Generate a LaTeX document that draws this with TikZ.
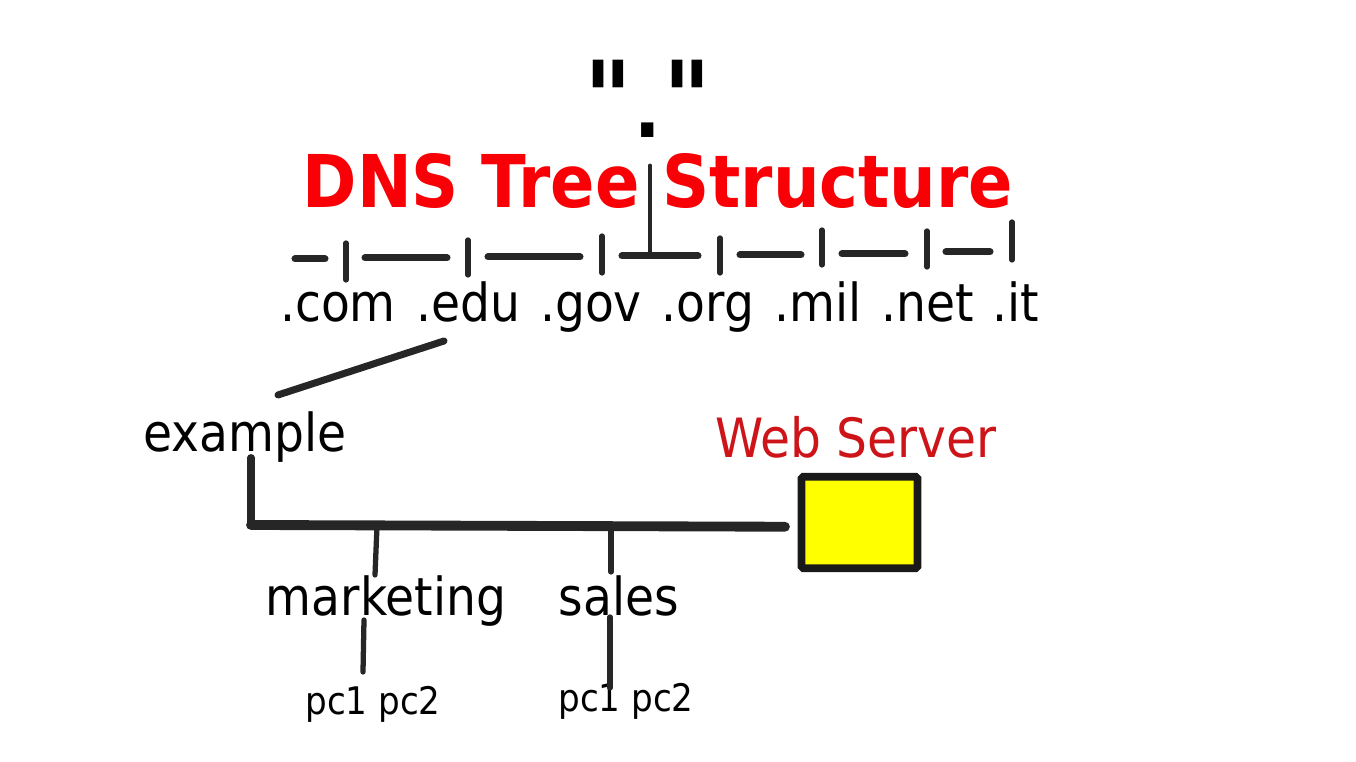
\documentclass[tikz,border=0pt]{standalone}
\usepackage{fontspec}
\setmainfont{DejaVu Sans Condensed}
\newfontfamily\rootfont{DejaVu Sans Condensed}
\definecolor{titlered}{RGB}{248,0,5}
\definecolor{serverred}{RGB}{205,20,25}
\definecolor{boxyellow}{RGB}{255,255,0}
\tikzset{
  plain/.style={inner sep=0pt,outer sep=0pt,text=black,anchor=base},
  zone/.style={plain,font=\fontsize{14.9pt}{0}\selectfont},
  host/.style={plain,font=\fontsize{10.8pt}{0}\selectfont},
  wire/.style={line width=2pt,black!85,line cap=round},
  tickmark/.style={line width=1.5pt,black!85,line cap=round},
  bus/.style={line width=2.8pt,black!85,line cap=round}
}
\begin{document}
\begin{tikzpicture}[x=0.01cm,y=-0.01cm]
  \useasboundingbox (0,0) rectangle (1356,762);
  % root and title
  \node[plain,font=\rootfont\fontsize{29pt}{0}\selectfont\bfseries] (rootname) at (648,135) {"\hspace{9pt}"};
  \node[plain,font=\fontsize{22pt}{0}\bfseries] (rootdot) at (648,138) {.};
  \node[plain,text=titlered,font=\fontsize{20.7pt}{0}\bfseries] (title) at (658,208) {DNS Tree Structure};
  % top level zones
  \node[zone] (com) at (338,322) {.com};
  \node[zone] (edu) at (468,322) {.edu};
  \node[zone] (gov) at (591,322) {.gov};
  \node[zone] (org) at (708,322) {.org};
  \node[zone] (mil) at (818,322) {.mil};
  \node[zone] (net) at (928,322) {.net};
  \node[zone] (it)  at (1016,322) {.it};
  % lower levels
  \node[zone] (example) at (245,452) {example};
  \node[zone] (marketing) at (386,616) {marketing};
  \node[zone] (sales) at (619,616) {sales};
  \node[host] (pcA) at (373,715) {pc1 pc2};
  \node[host] (pcB) at (626,712) {pc1 pc2};
  \node[plain,text=serverred,font=\fontsize{15.4pt}{0}\selectfont] (servername) at (856,458) {Web Server};
  \node[draw=black!90,fill=boxyellow,line width=2.2pt,rounded corners=0.5pt,minimum width=33pt,minimum height=26pt,inner sep=0pt] (server) at (859.5,522.5) {};
  \coordinate (top) at (650,256);
  \coordinate (corner) at (251,525);
  \coordinate (tapA) at (377,526);
  \coordinate (tapB) at (611,526);
  \coordinate (eduEnd) at (444,341);
  \coordinate (exampleEnd) at (278,395);
  % the dashed row under the title
  \draw[wire] (295,259) -- (325,259);
  \draw[wire] (365,258) -- (447,258);
  \draw[wire] (488,257) -- (580,257);
  \draw[wire] (622,256) -- (698,256);
  \draw[wire] (740,255) -- (801,255);
  \draw[wire] (842,254) -- (905,254);
  \draw[wire] (946,252) -- (990,252);
  \draw[tickmark] (346,243) -- (346,280);
  \draw[tickmark] (468,240) -- (468,275);
  \draw[tickmark] (602,236) -- (602,273);
  \draw[tickmark] (720,238) -- (720,273);
  \draw[tickmark] (822,230) -- (822,265);
  \draw[tickmark] (927,231) -- (927,267);
  \draw[tickmark] (1012,222) -- (1012,260);
  \draw[wire,line width=1.4pt] (650,166) -- (top);
  % tree below .edu
  \draw[wire] (eduEnd) -- (exampleEnd);
  \draw[wire,shorten <=-1.5pt] (corner |- example.south) -- (corner);
  \draw[bus] (corner) -- ([xshift=-3.6pt,yshift=-0.5pt]server.west |- corner);
  \draw[tickmark] (tapA) -- (375,575);
  \draw[tickmark] (tapB) -- (611,572);
  \draw[tickmark] (364,620) -- (363,672);
  \draw[tickmark] (610,617) -- (610,688);
\end{tikzpicture}
\end{document}
